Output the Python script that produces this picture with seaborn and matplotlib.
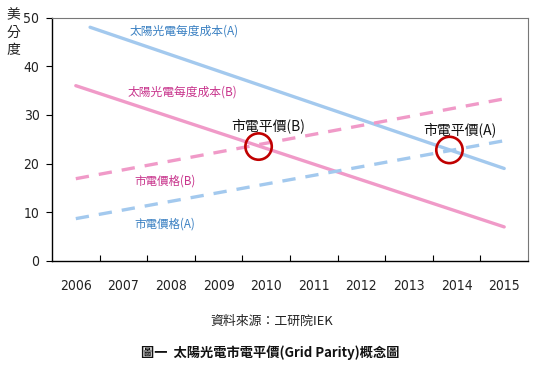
import matplotlib
matplotlib.use("Agg")
import matplotlib.pyplot as plt
import seaborn as sns
import pandas as pd
from matplotlib import font_manager

# ---- data ----
years = [2006, 2007, 2008, 2009, 2010, 2011, 2012, 2013, 2014, 2015]
solar_a_x = [2006.3, 2015]
solar_a_y = [48, 19]
solar_b_x = [2006, 2015]
solar_b_y = [36, 7]
grid_b_x = [2006, 2015]
grid_b_y = [16.9, 33.3]
grid_a_x = [2006, 2015]
grid_a_y = [8.7, 24.7]
parity_x = [2009.84, 2013.85]
parity_y = [23.5, 22.8]
yticks = [0, 10, 20, 30, 40, 50]

sns.set_theme(style="white")
plt.rcParams['font.family'] = ['Noto Sans CJK TC', 'DejaVu Sans']

fonts = font_manager.fontManager.ttflist
narrow = [f for f in fonts
          if f.style == "normal" and f.weight in (400, "normal", "regular")
          and ("Narrow" in f.name or "Condensed" in f.name
               or f.stretch in ("condensed", "semi-condensed"))]
narrow.sort(key=lambda f: (0 if "DejaVu" in f.name else 1, f.name))
if narrow:
    TICKFP = font_manager.FontProperties(fname=narrow[0].fname, size=10)
else:
    TICKFP = font_manager.FontProperties(family="Liberation Sans", size=9.5)

BLUE = "#A3C9EE"
PINK = "#F09AC8"
BLUE_T = "#3A80C2"
PINK_T = "#C8348C"

fig = plt.figure(figsize=(5.35, 3.70), dpi=100)
ax = fig.add_axes([52/535, 1 - 261/370, (528-52)/535, (261-17.5)/370])

def line(xs, ys, color, dashed=False):
    df = pd.DataFrame({"x": xs, "y": ys})
    sns.lineplot(data=df, x="x", y="y", ax=ax, color=color, lw=2.4,
                 linestyle=(0, (4, 3)) if dashed else "-")

line(solar_a_x, solar_a_y, BLUE)
line(solar_b_x, solar_b_y, PINK)
line(grid_b_x, grid_b_y, PINK, dashed=True)
line(grid_a_x, grid_a_y, BLUE, dashed=True)

sns.scatterplot(x=parity_x, y=parity_y, ax=ax, s=360, facecolor="none",
                edgecolor="#C00000", linewidth=1.9, zorder=5)

ax.set_xlim(2005.5, 2015.5)
ax.set_ylim(0, 50)
ax.set_xticks(years)
ax.set_xticklabels([str(y) for y in years], fontproperties=TICKFP, color="#222222")
ax.set_xticks([y + 0.5 for y in years[:-1]], minor=True)
ax.tick_params(axis="x", which="major", length=0, pad=13)
ax.tick_params(axis="x", which="minor", direction="in", length=4, width=0.8, color="black", bottom=True)
ax.set_yticks(yticks)
ax.set_yticklabels([str(v) for v in yticks], fontproperties=TICKFP, color="#222222")
ax.tick_params(axis="y", direction="out", length=4, width=0.8, color="black", left=True, pad=5)
ax.set_xlabel("")
ax.set_ylabel("")

for s in ["left", "bottom"]:
    ax.spines[s].set_color("black")
    ax.spines[s].set_linewidth(1.0)
for s in ["top", "right"]:
    ax.spines[s].set_color("#777777")
    ax.spines[s].set_linestyle((0, (1, 1)))
    ax.spines[s].set_linewidth(0.8)

ax.text(2007.13, 47.2, "太陽光電每度成本(A)", color=BLUE_T, fontsize=8.5, va="center", ha="left")
ax.text(2007.09, 34.7, "太陽光電每度成本(B)", color=PINK_T, fontsize=8.5, va="center", ha="left")
ax.text(2009.27, 27.7, "市電平價(B)", color="#111111", fontsize=10, va="center", ha="left")
ax.text(2013.3, 26.9, "市電平價(A)", color="#111111", fontsize=10, va="center", ha="left")
ax.text(2007.24, 16.4, "市電價格(B)", color=PINK_T, fontsize=8.3, va="center", ha="left")
ax.text(2007.24, 7.6, "市電價格(A)", color=BLUE_T, fontsize=8.3, va="center", ha="left")

for i, ch in enumerate("美分度"):
    fig.text(13/535, 1 - (15 + 17.5*i)/370, ch, fontsize=10, ha="center", va="center", color="#222222")

fig.text(272/535, 1 - 321/370, "資料來源：工研院IEK", fontsize=9.3, ha="center", va="center", color="#222222")
fig.text(270/535, 1 - 353/370, "圖一  太陽光電市電平價(Grid Parity)概念圖", fontsize=9.5,
         fontweight="bold", ha="center", va="center", color="#111111")

fig.savefig("out.png", dpi=100)
